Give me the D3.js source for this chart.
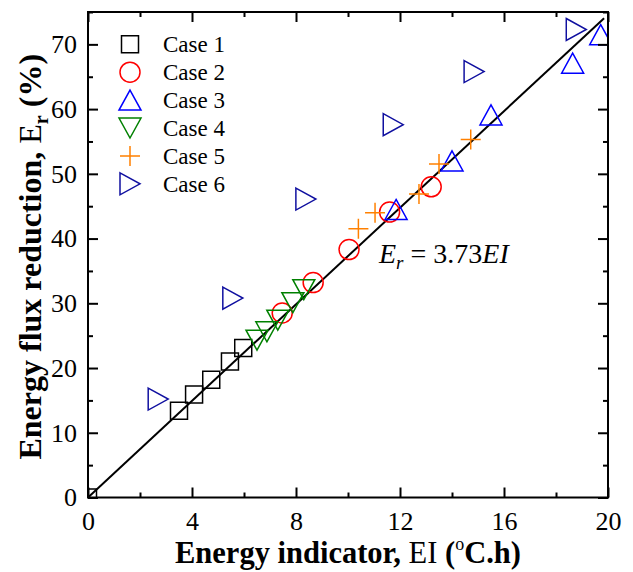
<!DOCTYPE html>
<html><head><meta charset="utf-8">
<script src="https://cdn.jsdelivr.net/npm/d3@7"></script>
<style>body{margin:0;background:#fff}svg{display:block}</style>
</head><body>
<svg id="c" width="633" height="572"></svg>
<script>
const caseNames = ["Case 1","Case 2","Case 3","Case 4","Case 5","Case 6"];
const case1 = [[0,0],[3.5,13.4],[4.08,15.9],[4.74,18.2],[5.46,21.0],[5.97,23.1]];
const case2 = [[7.47,28.5],[8.66,33.2],[10.04,38.3],[11.6,44.1],[13.2,48.0]];
const case3 = [[11.85,44.5],[14.0,52.0],[15.5,59.1],[18.64,67.1],[19.72,71.5]];
const case4 = [[6.5,24.3],[6.88,25.6],[7.3,27.4],[7.88,30.1],[8.3,32.1]];
const case5 = [[10.4,41.5],[11.04,44.0],[12.73,46.9],[13.5,51.5],[14.72,55.3]];
const case6 = [[2.7,15.2],[5.57,30.8],[8.38,46.1],[11.74,57.6],[14.85,65.8],[18.78,72.3]];
const fitSlope = 3.73;
const fitRange = [0, 19.85];
const xTicks = [0,4,8,12,16,20];
const xMinor = [2,6,10,14,18];
const yTicks = [0,10,20,30,40,50,60,70];
const yMinor = [5,15,25,35,45,55,65,75];

(function(){
const W = 633, H = 572;
const m = {l:88, r:25, t:12, b:74.5};
const FF = '"Liberation Serif"';
const svg = d3.select("#c");
const x = d3.scaleLinear().domain([0,20]).range([m.l, W-m.r]);
const y = d3.scaleLinear().domain([0,75]).range([H-m.b, m.t]);

const shapes = {
  square: "M-8.5,-8.5H8.5V8.5H-8.5Z",
  circle: "M10,0A10,10 0 1,1 -10,0A10,10 0 1,1 10,0Z",
  up: "M0,-10L11,10L-11,10Z",
  down: "M0,10L11,-10L-11,-10Z",
  plus: "M-10,0H10M0,-10V10",
  right: "M-10,-11L10,0L-10,11Z"
};
const series = [
  {name:caseNames[0], data:case1, shape:"square", color:"#000000"},
  {name:caseNames[1], data:case2, shape:"circle", color:"#ff0000"},
  {name:caseNames[2], data:case3, shape:"up", color:"#0000ff"},
  {name:caseNames[3], data:case4, shape:"down", color:"#008000"},
  {name:caseNames[4], data:case5, shape:"plus", color:"#ff8000"},
  {name:caseNames[5], data:case6, shape:"right", color:"#1010a0"}
];

svg.append("defs").append("clipPath").attr("id","clip")
  .append("rect").attr("x",x(0)).attr("y",y(75)).attr("width",x(20)-x(0)).attr("height",y(0)-y(75));

svg.append("line")
  .attr("x1",x(fitRange[0])).attr("y1",y(fitSlope*fitRange[0]))
  .attr("x2",x(fitRange[1])).attr("y2",y(fitSlope*fitRange[1]))
  .attr("stroke","#000").attr("stroke-width",2);

const pts = svg.append("g").attr("clip-path","url(#clip)");
series.forEach(s => {
  pts.selectAll(null).data(s.data).enter().append("path")
    .attr("d", shapes[s.shape])
    .attr("transform", d => `translate(${x(d[0])},${y(d[1])})`)
    .attr("fill","none").attr("stroke", s.color).attr("stroke-width",1.5);
});

const axB = d3.axisBottom(x).tickValues(xTicks).tickSize(-10).tickPadding(14).tickFormat(d3.format("d"));
const axT = d3.axisTop(x).tickValues(xTicks).tickSize(-10).tickFormat("");
const axL = d3.axisLeft(y).tickValues(yTicks).tickSize(-10).tickPadding(11).tickFormat(d3.format("d"));
const axR = d3.axisRight(y).tickValues(yTicks).tickSize(-10).tickFormat("");
const bMin = d3.axisBottom(x).tickValues(xMinor).tickSize(-5).tickFormat("");
const tMin = d3.axisTop(x).tickValues(xMinor).tickSize(-5).tickFormat("");
const lMin = d3.axisLeft(y).tickValues(yMinor).tickSize(-5).tickFormat("");
const rMin = d3.axisRight(y).tickValues(yMinor).tickSize(-5).tickFormat("");

function styleAxis(g){
  g.attr("font-family",null);
  g.select(".domain").remove();
  g.selectAll(".tick line").attr("stroke","#000").attr("stroke-width",2);
  g.selectAll("text").style("font-family",FF).attr("font-size",26).attr("fill","#000");
}
svg.append("g").attr("transform",`translate(0,${y(0)})`).call(axB).call(styleAxis);
svg.append("g").attr("transform",`translate(0,${y(0)})`).call(bMin).call(styleAxis);
svg.append("g").attr("transform",`translate(0,${y(75)})`).call(axT).call(styleAxis);
svg.append("g").attr("transform",`translate(0,${y(75)})`).call(tMin).call(styleAxis);
svg.append("g").attr("transform",`translate(${x(0)},0)`).call(axL).call(styleAxis);
svg.append("g").attr("transform",`translate(${x(0)},0)`).call(lMin).call(styleAxis);
svg.append("g").attr("transform",`translate(${x(20)},0)`).call(axR).call(styleAxis);
svg.append("g").attr("transform",`translate(${x(20)},0)`).call(rMin).call(styleAxis);

svg.append("rect").attr("x",x(0)).attr("y",y(75)).attr("width",x(20)-x(0)).attr("height",y(0)-y(75))
  .attr("fill","none").attr("stroke","#000").attr("stroke-width",2);

const lg = svg.append("g");
series.forEach((s,i) => {
  const cy = 44.3 + i*27.9;
  lg.append("path").attr("d", shapes[s.shape]).attr("transform",`translate(130,${cy})`)
    .attr("fill","none").attr("stroke",s.color).attr("stroke-width",1.5);
  lg.append("text").attr("x",163).attr("y",cy+8).style("font-family",FF).attr("font-size",23)
    .attr("fill","#000").text(s.name);
});

const eq = svg.append("text").attr("x",379).attr("y",263).style("font-family",FF).attr("font-size",28).attr("fill","#000");
eq.append("tspan").attr("font-style","italic").text("E");
eq.append("tspan").attr("font-style","italic").attr("font-size",19).attr("dy",6).text("r");
eq.append("tspan").attr("dy",-6).text(" = 3.73");
eq.append("tspan").attr("font-style","italic").text("EI");

const xt = svg.append("text").attr("x",(x(0)+x(20))/2).attr("y",563).attr("text-anchor","middle")
  .style("font-family",FF).attr("font-size",30.5).attr("font-weight","bold").attr("fill","#000");
xt.append("tspan").text("Energy indicator, ");
xt.append("tspan").attr("font-weight","normal").text("EI");
xt.append("tspan").text(" (");
xt.append("tspan").attr("font-size",18).attr("dy",-13).attr("font-weight","normal").text("o");
xt.append("tspan").attr("dy",13).text("C.h)");

const yt = svg.append("text").attr("transform",`translate(41,${(y(0)+y(75))/2+2}) rotate(-90)`).attr("text-anchor","middle")
  .style("font-family",FF).attr("font-size",32).attr("font-weight","bold").attr("fill","#000");
yt.append("tspan").text("Energy flux reduction, ");
yt.append("tspan").attr("font-weight","normal").text("E");
yt.append("tspan").attr("font-size",20).attr("dy",7).text("r");
yt.append("tspan").attr("dy",-7).text(" (%)");
})();
</script>
</body></html>
